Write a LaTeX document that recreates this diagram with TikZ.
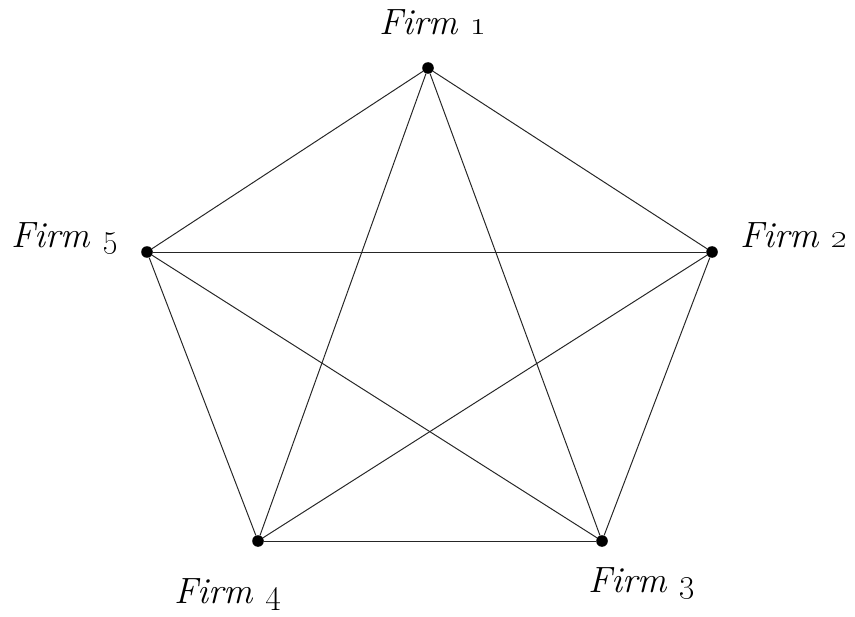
\documentclass[tikz,border=0pt]{standalone}
\usetikzlibrary{positioning}
\begin{document}
\begin{tikzpicture}[
  firm/.style={circle, fill=black, inner sep=0pt, minimum size=2.9mm},
  lab/.style={font=\fontsize{26}{30}\selectfont\itshape, inner sep=0pt, anchor=base},
  link/.style={line width=0.7pt, black!85}]
\useasboundingbox (0,0) rectangle (21.375,15.4);
% the five firms
\node[firm] (f1) at (10.7,13.7) {};
\node[firm] (f2) at (17.8,9.1) {};
\node[firm] (f3) at (15.05,1.875) {};
\node[firm] (f4) at (6.45,1.875) {};
\node[firm] (f5) at (3.675,9.1) {};
% names
\node[lab] (l1) at (10.825,14.525) {Firm \oldstylenums{1}};
\node[lab] (l2) at (19.85,9.2) {Firm \oldstylenums{2}};
\node[lab] (l3) at (16.05,0.6) {Firm \oldstylenums{3}};
\node[lab] (l4) at (5.7,0.325) {Firm \oldstylenums{4}};
\node[lab] (l5) at (1.625,9.2) {Firm \oldstylenums{5}};
% every pair of firms is linked
\foreach \a/\b in {1/2,1/3,1/4,1/5,2/3,2/4,2/5,3/4,3/5,4/5}
  \draw[link] (f\a) -- (f\b);
\end{tikzpicture}
\end{document}
